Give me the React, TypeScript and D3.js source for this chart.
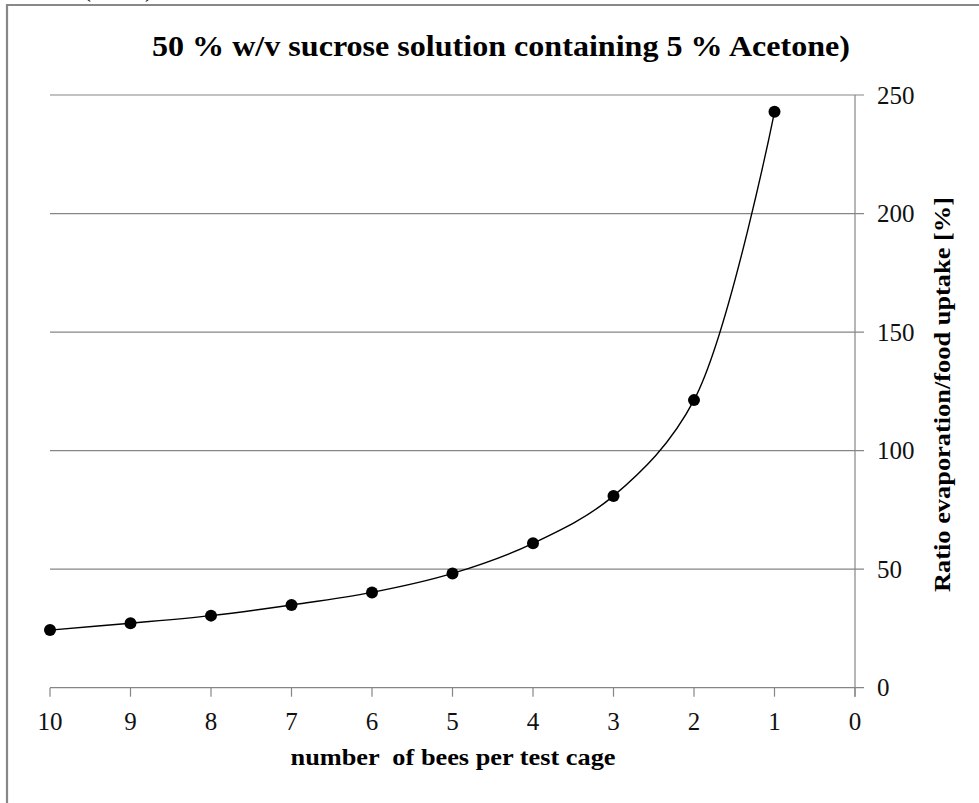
import React from "react";
import * as d3 from "d3";

const beesPerCage = [10, 9, 8, 7, 6, 5, 4, 3, 2, 1];
const ratioValues = [24.3, 27.2, 30.4, 34.9, 40.2, 48.2, 60.9, 80.9, 121.3, 242.9];
const xTickValues = [10, 9, 8, 7, 6, 5, 4, 3, 2, 1, 0];
const yTickValues = [0, 50, 100, 150, 200, 250];
const chartTitle = "50 % w/v sucrose solution containing 5 % Acetone)";
const xAxisTitle = "number  of bees per test cage";
const yAxisTitle = "Ratio evaporation/food uptake [%]";

const W = 979;
const H = 803;
const FONT = '"Liberation Serif", "Times New Roman", Times, serif';
const GRID = "#868686";

export default function App() {
  const x = d3.scaleLinear().domain([10, 0]).range([50, 855]);
  const y = d3.scaleLinear().domain([0, 250]).range([687.7, 95]);

  const pts = beesPerCage
    .map((b, i) => ({ b, v: ratioValues[i] }))
    .sort((a, c) => a.b - c.b);

  const line = d3
    .line<{ b: number; v: number }>()
    .x((d) => x(d.b))
    .y((d) => y(d.v))
    .curve(d3.curveCatmullRom.alpha(0.5));

  const x0 = x(10);
  const xAxisX = x(0);
  const yBase = y(0);
  const tf = { fontFamily: FONT };

  return (
    <svg
      width={W}
      height={H}
      style={{ position: "absolute", left: 0, top: 0, background: "#fff" }}
    >
      <rect x={0} y={0} width={W} height={H} fill="#fff" />
      {/* clipped text fragment above frame */}
      <text x={83} y={-3} fontSize={24} fill="#000" style={tf}>(</text>
      <text x={145} y={-3} fontSize={24} fill="#000" style={tf}>)</text>
      {/* frame */}
      <line x1={6} x2={W} y1={5} y2={5} stroke="#888" strokeWidth={2.2} />
      <line x1={7} x2={7} y1={4} y2={H} stroke="#888" strokeWidth={2.2} />

      {/* title */}
      <text
        x={501}
        y={56}
        textAnchor="middle"
        fontSize={30}
        fontWeight="bold"
        fill="#000"
        style={tf}
        textLength={698}
        lengthAdjust="spacingAndGlyphs"
      >
        {chartTitle}
      </text>

      {/* gridlines */}
      {yTickValues
        .filter((t) => t > 0)
        .map((t) => (
          <line key={"g" + t} x1={x0} x2={xAxisX + 9} y1={y(t)} y2={y(t)} stroke={GRID} strokeWidth={1.2} />
        ))}

      {/* x axis */}
      <line x1={x0} x2={xAxisX + 9} y1={yBase} y2={yBase} stroke={GRID} strokeWidth={1.2} />
      {xTickValues.map((t) => (
        <g key={"xt" + t}>
          <line x1={x(t)} x2={x(t)} y1={yBase} y2={yBase + 9} stroke={GRID} strokeWidth={1.2} />
          <text x={x(t)} y={730} textAnchor="middle" fontSize={25} fill="#111" style={tf}>
            {t}
          </text>
        </g>
      ))}

      {/* y axis (right) */}
      <line x1={xAxisX} x2={xAxisX} y1={y(250)} y2={yBase + 9} stroke={GRID} strokeWidth={1.2} />
      {yTickValues.map((t) => (
        <text key={"yt" + t} x={877} y={y(t) + 8.5} textAnchor="start" fontSize={25} fill="#111" style={tf}>
          {t}
        </text>
      ))}

      {/* axis titles */}
      <text
        x={453}
        y={765}
        textAnchor="middle"
        fontSize={24}
        fontWeight="bold"
        fill="#000"
        style={{ ...tf, whiteSpace: "pre" }}
        textLength={325}
        lengthAdjust="spacingAndGlyphs"
      >
        {xAxisTitle}
      </text>
      <text
        transform={`translate(950,394.5) rotate(-90)`}
        textAnchor="middle"
        fontSize={24}
        fontWeight="bold"
        fill="#000"
        style={tf}
        textLength={395}
        lengthAdjust="spacingAndGlyphs"
      >
        {yAxisTitle}
      </text>

      {/* series */}
      <path d={line(pts) || ""} fill="none" stroke="#000" strokeWidth={1.4} />
      {pts.map((d) => (
        <circle key={"p" + d.b} cx={x(d.b)} cy={y(d.v)} r={6} fill="#000" />
      ))}
    </svg>
  );
}
